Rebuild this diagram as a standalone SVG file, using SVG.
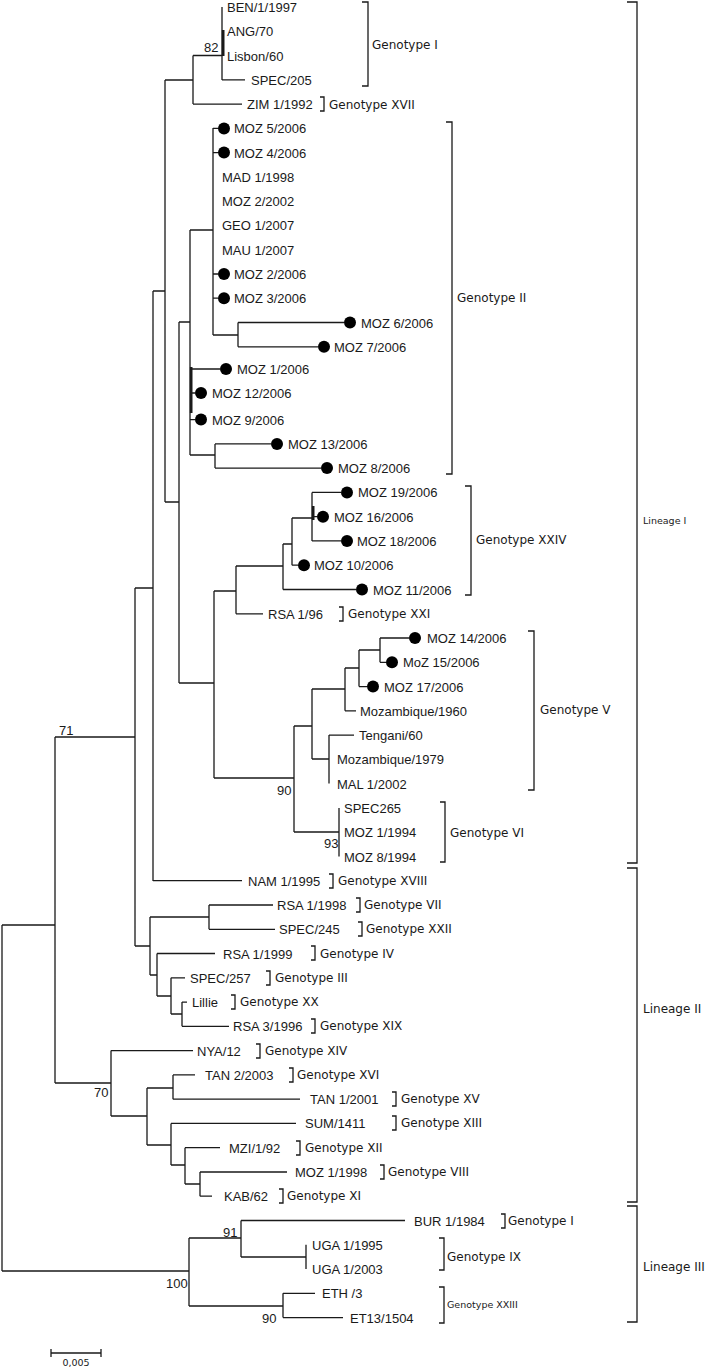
<svg xmlns="http://www.w3.org/2000/svg" width="709" height="1368" viewBox="0 0 709 1368">
<style>
.t{fill:none;stroke:#1a1a1a;stroke-width:1.3}
.tk{fill:none;stroke:#1a1a1a;stroke-width:2.6}
.bk{fill:none;stroke:#1a1a1a;stroke-width:1.3}
.lf{font-family:"Liberation Sans",Arial,sans-serif;font-size:13px;fill:#1a1a1a}
.gt{font-family:"DejaVu Sans",Verdana,sans-serif;font-size:12px;fill:#1a1a1a}
.sm{font-family:"DejaVu Sans",Verdana,sans-serif;font-size:9.5px;fill:#1a1a1a}
.dot{fill:#000}
</style>
<rect width="709" height="1368" fill="#fff"/>
<g id="connectors">
<path class="t" d="M2,925V1271M2,925H55M2,1271H189
M55,737V1083M55,737H135M55,1083H111
M135,588V946M135,588H153M135,946H150
M153,291V881M153,291H165M153,880.7H242
M165,80V502M165,80H193M165,502H179
M193,55.5V104M193,55.5H222M193,104.1H242
M222,7V80M222,79.8H245
M179,322V683M179,322H190M179,683H214
M190,230V455M190,230H213M190,369H220M190,393H195M190,419.6H195M190,455H215
M213,128V335M213,335H238M213,128.4H218M213,152.6H218M213,274H218M213,298.2H218
M238,322.5V346.8M238,322.5H344M238,346.8H318
M215,443.9V468.1M215,443.9H271M215,468.1H321
M214,591V778M214,591H236M214,778H294
M236,566V613.8M236,566H283M236,613.8H263
M283,544V589.5M283,544H292M283,589.5H356
M292,518V565.2M292,518H312M292,565.2H298
M312,492.4V540.9M312,492.4H341M312,516.7H317M312,540.9H341
M294,726V832M294,726H312M294,832H339
M312,689V759M312,689H345M312,759H329
M345,668V710.8M345,668H359M345,710.8H356
M359,650V686.6M359,650H380M359,686.6H367
M380,638V662.3M380,638H409M380,662.3H386
M329,735.1V783.6M329,735.1H354
M339,807.9V856.5
M150,917V975M150,917H209M150,975H157
M209,905V929.3M209,905H273M209,929.3H275
M157,953.5V996M157,953.5H215M157,996H171
M171,977.8V1014M171,977.8H185M171,1014H182
M182,1002.1V1026.3M182,1002.1H187M182,1026.3H229
M111,1050.6V1116M111,1050.6H193M111,1116H147
M147,1088V1145M147,1088H173M147,1145H171
M173,1074.9V1099.2M173,1074.9H195M173,1099.2H300
M171,1123.4V1165M171,1123.4H296M171,1165H185
M185,1147.7V1184M185,1147.7H220M185,1184H200
M200,1172V1196.2M200,1172H287M200,1196.2H212
M189,1238V1306M189,1238H241M189,1306H283
M241,1220.5V1257M241,1220.5H405M241,1257H306
M306,1244.8V1269
M283,1293.3V1317.6M283,1293.3H315M283,1317.6H343"/>
<path class="tk" d="M223.2,30V56M191.2,367V413M313.2,506V520"/>
</g>
<g id="scale">
<path class="t" d="M51,1353H101M51,1349V1357M101,1349V1357"/>
<text class="sm" x="76" y="1366" text-anchor="middle">0,005</text>
</g>
<g id="bootstrap" class="lf">
<text x="204" y="52">82</text>
<text x="59" y="735">71</text>
<text x="277" y="795">90</text>
<text x="324" y="848">93</text>
<text x="94" y="1097">70</text>
<text x="223" y="1237">91</text>
<text x="166" y="1288">100</text>
<text x="262" y="1323">90</text>
</g>
<g id="leaves" class="lf">
<g id="n-BEN"><text x="227" y="12">BEN/1/1997</text></g>
<g id="n-ANG"><text x="227" y="36.3">ANG/70</text></g>
<g id="n-Lisbon"><text x="227" y="60.5">Lisbon/60</text></g>
<g id="n-SPEC205"><text x="251" y="84.8">SPEC/205</text></g>
<g id="n-ZIM"><text x="247" y="109.1">ZIM 1/1992</text></g>
<g id="n-MOZ5"><circle class="dot" cx="224" cy="128.4" r="6"/><text x="234" y="133.4">MOZ 5/2006</text></g>
<g id="n-MOZ4"><circle class="dot" cx="224" cy="152.6" r="6"/><text x="234" y="157.6">MOZ 4/2006</text></g>
<g id="n-MAD"><text x="222" y="181.9">MAD 1/1998</text></g>
<g id="n-MOZ2-2002"><text x="222" y="206.2">MOZ 2/2002</text></g>
<g id="n-GEO"><text x="222" y="230.4">GEO 1/2007</text></g>
<g id="n-MAU"><text x="222" y="254.7">MAU 1/2007</text></g>
<g id="n-MOZ2"><circle class="dot" cx="224" cy="274" r="6"/><text x="234" y="279">MOZ 2/2006</text></g>
<g id="n-MOZ3"><circle class="dot" cx="224" cy="298.2" r="6"/><text x="234" y="303.2">MOZ 3/2006</text></g>
<g id="n-MOZ6"><circle class="dot" cx="350" cy="322.5" r="6"/><text x="361" y="327.5">MOZ 6/2006</text></g>
<g id="n-MOZ7"><circle class="dot" cx="324" cy="346.8" r="6"/><text x="334" y="351.8">MOZ 7/2006</text></g>
<g id="n-MOZ1"><circle class="dot" cx="226" cy="369" r="6"/><text x="237" y="374">MOZ 1/2006</text></g>
<g id="n-MOZ12"><circle class="dot" cx="201" cy="393" r="6"/><text x="212" y="398">MOZ 12/2006</text></g>
<g id="n-MOZ9"><circle class="dot" cx="201" cy="419.6" r="6"/><text x="212" y="424.6">MOZ 9/2006</text></g>
<g id="n-MOZ13"><circle class="dot" cx="277" cy="443.9" r="6"/><text x="288" y="448.9">MOZ 13/2006</text></g>
<g id="n-MOZ8"><circle class="dot" cx="327" cy="468.1" r="6"/><text x="338" y="473.1">MOZ 8/2006</text></g>
<g id="n-MOZ19"><circle class="dot" cx="347" cy="492.4" r="6"/><text x="358" y="497.4">MOZ 19/2006</text></g>
<g id="n-MOZ16"><circle class="dot" cx="323" cy="516.7" r="6"/><text x="334" y="521.7">MOZ 16/2006</text></g>
<g id="n-MOZ18"><circle class="dot" cx="347" cy="540.9" r="6"/><text x="357" y="545.9">MOZ 18/2006</text></g>
<g id="n-MOZ10"><circle class="dot" cx="304" cy="565.2" r="6"/><text x="314" y="570.2">MOZ 10/2006</text></g>
<g id="n-MOZ11"><circle class="dot" cx="362" cy="589.5" r="6"/><text x="373" y="594.5">MOZ 11/2006</text></g>
<g id="n-RSA196"><text x="268" y="618.8">RSA 1/96</text></g>
<g id="n-MOZ14"><circle class="dot" cx="415" cy="638" r="6"/><text x="427" y="643">MOZ 14/2006</text></g>
<g id="n-MOZ15"><circle class="dot" cx="392" cy="662.3" r="6"/><text x="403" y="667.3">MoZ 15/2006</text></g>
<g id="n-MOZ17"><circle class="dot" cx="373" cy="686.6" r="6"/><text x="384" y="691.6">MOZ 17/2006</text></g>
<g id="n-Moz1960"><text x="360" y="715.8">Mozambique/1960</text></g>
<g id="n-Tengani"><text x="359" y="740.1">Tengani/60</text></g>
<g id="n-Moz1979"><text x="337" y="764.4">Mozambique/1979</text></g>
<g id="n-MAL"><text x="337" y="788.6">MAL 1/2002</text></g>
<g id="n-SPEC265"><text x="344" y="812.9">SPEC265</text></g>
<g id="n-MOZ1994"><text x="344" y="837.2">MOZ 1/1994</text></g>
<g id="n-MOZ81994"><text x="344" y="861.5">MOZ 8/1994</text></g>
<g id="n-NAM"><text x="248" y="885.7">NAM 1/1995</text></g>
<g id="n-RSA1998"><text x="277" y="910">RSA 1/1998</text></g>
<g id="n-SPEC245"><text x="279" y="934.3">SPEC/245</text></g>
<g id="n-RSA1999"><text x="223" y="958.5">RSA 1/1999</text></g>
<g id="n-SPEC257"><text x="190" y="982.8">SPEC/257</text></g>
<g id="n-Lillie"><text x="192" y="1007.1">Lillie</text></g>
<g id="n-RSA31996"><text x="233" y="1031.3">RSA 3/1996</text></g>
<g id="n-NYA"><text x="197" y="1055.6">NYA/12</text></g>
<g id="n-TAN2"><text x="205" y="1079.9">TAN 2/2003</text></g>
<g id="n-TAN1"><text x="310" y="1104.2">TAN 1/2001</text></g>
<g id="n-SUM"><text x="305" y="1128.4">SUM/1411</text></g>
<g id="n-MZI"><text x="229" y="1152.7">MZI/1/92</text></g>
<g id="n-MOZ1998"><text x="295" y="1177">MOZ 1/1998</text></g>
<g id="n-KAB"><text x="224" y="1201.2">KAB/62</text></g>
<g id="n-BUR"><text x="414" y="1225.5">BUR 1/1984</text></g>
<g id="n-UGA95"><text x="312" y="1249.8">UGA 1/1995</text></g>
<g id="n-UGA03"><text x="312" y="1274">UGA 1/2003</text></g>
<g id="n-ETH"><text x="322" y="1298.3">ETH /3</text></g>
<g id="n-ET13"><text x="350" y="1322.6">ET13/1504</text></g>
</g>
<g id="genotypes">
<g id="g-I"><path class="bk" d="M362,2H368V86H362"/><text class="gt" x="372" y="49">Genotype I</text></g>
<g id="g-XVII"><path class="bk" d="M320,97H324V111H320"/><text class="gt" x="329" y="108.5">Genotype XVII</text></g>
<g id="g-II"><path class="bk" d="M446,122H452V474H446"/><text class="gt" x="457" y="302">Genotype II</text></g>
<g id="g-XXIV"><path class="bk" d="M465,486H471V595H465"/><text class="gt" x="476" y="544">Genotype XXIV</text></g>
<g id="g-XXI"><path class="bk" d="M339,607H343V621H339"/><text class="gt" x="348" y="618">Genotype XXI</text></g>
<g id="g-V"><path class="bk" d="M528,631H534V790H528"/><text class="gt" x="540" y="714">Genotype V</text></g>
<g id="g-VI"><path class="bk" d="M440,802H445V862H440"/><text class="gt" x="450" y="837">Genotype VI</text></g>
<g id="g-XVIII"><path class="bk" d="M329,874H333V888H329"/><text class="gt" x="338" y="885">Genotype XVIII</text></g>
<g id="g-VII"><path class="bk" d="M356,898H360V912H356"/><text class="gt" x="364" y="909">Genotype VII</text></g>
<g id="g-XXII"><path class="bk" d="M358,922H362V936H358"/><text class="gt" x="366" y="933">Genotype XXII</text></g>
<g id="g-IV"><path class="bk" d="M311,946H315V960H311"/><text class="gt" x="320" y="957.5">Genotype IV</text></g>
<g id="g-III"><path class="bk" d="M266,971H270V985H266"/><text class="gt" x="275" y="982">Genotype III</text></g>
<g id="g-XX"><path class="bk" d="M231,995H235V1009H231"/><text class="gt" x="240" y="1006">Genotype XX</text></g>
<g id="g-XIX"><path class="bk" d="M311,1019H315V1033H311"/><text class="gt" x="320" y="1030">Genotype XIX</text></g>
<g id="g-XIV"><path class="bk" d="M256,1044H260V1058H256"/><text class="gt" x="265" y="1055">Genotype XIV</text></g>
<g id="g-XVI"><path class="bk" d="M289,1068H293V1082H289"/><text class="gt" x="297" y="1079">Genotype XVI</text></g>
<g id="g-XV"><path class="bk" d="M392,1092H396V1106H392"/><text class="gt" x="401" y="1103">Genotype XV</text></g>
<g id="g-XIII"><path class="bk" d="M392,1116H396V1130H392"/><text class="gt" x="401" y="1127">Genotype XIII</text></g>
<g id="g-XII"><path class="bk" d="M296,1141H300V1155H296"/><text class="gt" x="305" y="1152">Genotype XII</text></g>
<g id="g-VIII"><path class="bk" d="M380,1165H384V1179H380"/><text class="gt" x="388" y="1176">Genotype VIII</text></g>
<g id="g-XI"><path class="bk" d="M279,1189H283V1203H279"/><text class="gt" x="287" y="1200">Genotype XI</text></g>
<g id="g-I3"><path class="bk" d="M501,1214H505V1228H501"/><text class="gt" x="508" y="1225">Genotype I</text></g>
<g id="g-IX"><path class="bk" d="M439,1238H444V1270H439"/><text class="gt" x="447" y="1261">Genotype IX</text></g>
<g id="g-XXIII"><path class="bk" d="M439,1287H444V1323H439"/><text class="sm" x="447" y="1307.5">Genotype XXIII</text></g>
</g>
<g id="lineages">
<g id="lin-I"><path class="bk" d="M627,2H637V863H627"/><text class="sm" x="643" y="524">Lineage I</text></g>
<g id="lin-II"><path class="bk" d="M627,868H637V1202H627"/><text class="gt" x="643" y="1013">Lineage II</text></g>
<g id="lin-III"><path class="bk" d="M627,1206H637V1322H627"/><text class="gt" x="643" y="1271">Lineage III</text></g>
</g>
</svg>
